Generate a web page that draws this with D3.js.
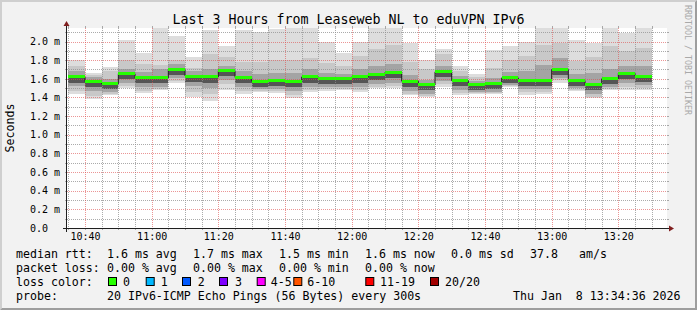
<!DOCTYPE html>
<html>
<head>
<meta charset="utf-8">
<script src="https://cdn.jsdelivr.net/npm/d3@7/dist/d3.min.js"></script>
<style>
body { margin: 0; background: #f2f2f2; }
svg { display: block; }
text { font-family: "DejaVu Sans Mono", monospace; white-space: pre; }
</style>
</head>
<body>
<svg width="697" height="310"></svg>
<script>
var day = "2026-01-08";
var rangeStart = "10:34:36";
var rangeEnd = "13:34:36";
var stepMinutes = 5;

var title = "Last 3 Hours from Leaseweb NL to eduVPN IPv6";
var yTitle = "Seconds";
var watermark = "RRDTOOL / TOBI OETIKER";

// start of each 5 minute bin
var binStart = ["10:35","10:40","10:45","10:50","10:55",
  "11:00","11:05","11:10","11:15","11:20","11:25","11:30","11:35","11:40","11:45","11:50","11:55",
  "12:00","12:05","12:10","12:15","12:20","12:25","12:30","12:35","12:40","12:45","12:50","12:55",
  "13:00","13:05","13:10","13:15","13:20","13:25"];

// median rtt (ms)
var medianMs = [1.62,1.57,1.545,1.655,1.61,1.61,1.70,1.63,1.62,1.685,1.615,1.575,1.585,1.575,1.62,1.60,1.60,1.62,
  1.645,1.67,1.575,1.535,1.675,1.58,1.54,1.55,1.61,1.585,1.585,1.70,1.58,1.535,1.60,1.66,1.63];

// fastest / slowest ping of each bin
var minMs = [1.435,1.38,1.425,1.50,1.45,1.48,1.56,1.41,1.365,1.485,1.435,1.46,1.445,1.39,1.46,1.47,1.48,1.46,
  1.50,1.50,1.425,1.40,1.515,1.425,1.435,1.435,1.515,1.425,1.435,1.56,1.47,1.39,1.48,1.48,1.48];
var maxMs = [1.80,1.665,1.73,2.015,1.88,2.2,2.06,1.835,2.12,1.95,2.12,2.10,2.13,2.2,2.2,2.0,1.88,2.0,
  2.2,2.2,1.985,1.80,1.92,1.735,1.65,1.91,1.95,2.0,2.2,2.2,2.015,1.98,2.2,2.095,2.2];

// 3rd and 18th ping
var p3Ms = [1.47,1.42,1.44,1.52,1.47,1.49,1.58,1.46,1.44,1.54,1.47,1.47,1.47,1.43,1.48,1.49,1.49,1.48,
  1.51,1.52,1.44,1.42,1.54,1.45,1.45,1.45,1.52,1.46,1.46,1.59,1.48,1.41,1.49,1.51,1.50];
var p18Ms = [1.74,1.64,1.68,1.80,1.76,1.75,1.80,1.72,1.87,1.83,1.78,1.78,1.80,1.80,1.82,1.77,1.74,1.85,
  1.92,1.96,1.78,1.70,1.87,1.68,1.62,1.72,1.80,1.84,1.96,1.98,1.79,1.83,1.95,1.90,1.93];

// 6th and 15th ping
var p6Ms = [1.52,1.47,1.46,1.56,1.51,1.51,1.61,1.52,1.50,1.59,1.51,1.49,1.49,1.47,1.51,1.51,1.51,1.51,
  1.54,1.56,1.47,1.44,1.58,1.48,1.46,1.46,1.53,1.49,1.49,1.61,1.50,1.44,1.51,1.55,1.53];
var p15Ms = [1.68,1.62,1.60,1.71,1.67,1.70,1.76,1.68,1.70,1.74,1.68,1.65,1.66,1.66,1.70,1.66,1.65,1.70,
  1.74,1.76,1.64,1.59,1.74,1.63,1.58,1.61,1.67,1.68,1.75,1.82,1.65,1.66,1.71,1.74,1.74];

// 9th and 12th ping
var p9Ms = [1.56,1.51,1.49,1.60,1.55,1.55,1.64,1.57,1.56,1.63,1.555,1.515,1.525,1.515,1.56,1.54,1.54,1.56,
  1.585,1.61,1.515,1.475,1.62,1.52,1.48,1.49,1.55,1.525,1.525,1.64,1.52,1.475,1.54,1.60,1.57];
var p12Ms = [1.635,1.585,1.56,1.67,1.625,1.625,1.715,1.645,1.635,1.70,1.63,1.59,1.60,1.59,1.635,1.615,1.615,1.635,
  1.66,1.685,1.59,1.55,1.69,1.595,1.555,1.565,1.625,1.60,1.60,1.715,1.595,1.55,1.615,1.675,1.645];

var timeTicks = ["10:40","11:00","11:20","11:40","12:00","12:20","12:40","13:00","13:20"];
var yMajor = [0,0.2,0.4,0.6,0.8,1.0,1.2,1.4,1.6,1.8,2.0];
var yMax = 2.145;

var rttStats = ["1.6 ms avg","1.7 ms max","1.5 ms min","1.6 ms now","0.0 ms sd","37.8","am/s"];
var lossStats = ["0.00 % avg","0.00 % max","0.00 % min","0.00 % now"];
var lossLabels = ["0","1","2","3","4-5","6-10","11-19","20/20"];
var probeText = "20 IPv6-ICMP Echo Pings (56 Bytes) every 300s";
var stampText = "Thu Jan  8 13:34:36 2026";

// styling / layout
var lossColors = ["#26ff00","#00b8ff","#0059ff","#7e00ff","#ff00ff","#ff5500","#ff0000","#a10000"];
var smokeColors = ["#dddddd","#c8c8c8","#a4a4a4","#555555"];
var statX = [107,193,279,365,451,530,579];
var lossBoxX = [108,145.7,182,219,256.7,293.3,365.3,430];
var lossTextX = [123,160.7,197.7,235,270.7,307.3,380,445];

var W = 697, H = 310;
var X0 = 67, X1 = 667, Y0 = 228, Y1 = 28;

var parse = d3.timeParse("%Y-%m-%d %H:%M:%S");
function t(s) { return parse(day + " " + (s.length == 5 ? s + ":00" : s)); }

var x = d3.scaleTime().domain([t(rangeStart), t(rangeEnd)]).range([X0, X1]);
var y = d3.scaleLinear().domain([0, yMax]).range([Y0, Y1]);

var svg = d3.select("svg");

// background + 3d frame
svg.append("rect").attr("width", W).attr("height", H).attr("fill", "#f2f2f2");
svg.append("polygon").attr("points", [[0,H],[2,H-2],[2,2],[W-2,2],[W,0],[0,0]].join(" ")).attr("fill", "#cfcfcf");
svg.append("polygon").attr("points", [[2,H-2],[W-2,H-2],[W-2,2],[W,0],[W,H],[0,H]].join(" ")).attr("fill", "#9e9e9e");

svg.append("rect").attr("x", X0).attr("y", Y1).attr("width", X1 - X0).attr("height", Y0 - Y1).attr("fill", "#ffffff");

svg.append("clipPath").attr("id", "plot").append("rect")
  .attr("x", X0).attr("y", Y1).attr("width", X1 - X0).attr("height", Y0 - Y1);

// smoke
var bins = binStart.map(function(s, i) {
  var a = t(s);
  return {
    start: a,
    end: d3.timeMinute.offset(a, stepMinutes),
    med: medianMs[i],
    bands: [[minMs[i], maxMs[i]], [p3Ms[i], p18Ms[i]], [p6Ms[i], p15Ms[i]], [p9Ms[i], p12Ms[i]]]
  };
});

var smoke = svg.append("g").attr("clip-path", "url(#plot)");
smokeColors.forEach(function(col, level) {
  smoke.selectAll(".s" + level)
    .data(bins)
  .enter().append("rect")
    .attr("x", function(d) { return x(d.start); })
    .attr("width", function(d) { return x(d.end) - x(d.start); })
    .attr("y", function(d) { return y(d.bands[level][1]); })
    .attr("height", function(d) { return y(d.bands[level][0]) - y(d.bands[level][1]); })
    .attr("fill", col)
    .attr("shape-rendering", "crispEdges");
});

// grid
var grid = svg.append("g");
var minorY = d3.range(0, yMax, 0.1).filter(function(d, i) { return i % 2 == 1; });
var allMinorY = d3.range(0, yMax, 0.1);
var minorX = d3.timeMinute.every(5).range(x.domain()[0], x.domain()[1])
  .filter(function(d) { return d.getMinutes() % 20 != 0; });
var allMinorX = d3.timeMinute.every(5).range(x.domain()[0], x.domain()[1]);

grid.selectAll(".hmin")
    .data(minorY)
  .enter().append("line")
    .attr("x1", X0).attr("x2", X1)
    .attr("y1", function(d) { return Math.round(y(d)) + 0.5; })
    .attr("y2", function(d) { return Math.round(y(d)) + 0.5; })
    .attr("stroke", "rgba(143,143,143,0.75)")
    .attr("stroke-dasharray", "1,1");
grid.selectAll(".vmin")
    .data(minorX)
  .enter().append("line")
    .attr("x1", function(d) { return Math.round(x(d)) + 0.5; })
    .attr("x2", function(d) { return Math.round(x(d)) + 0.5; })
    .attr("y1", Y1).attr("y2", Y0)
    .attr("stroke", "rgba(143,143,143,0.75)")
    .attr("stroke-dasharray", "1,1");
grid.selectAll(".hmaj")
    .data(yMajor.slice(1))
  .enter().append("line")
    .attr("x1", X0).attr("x2", X1)
    .attr("y1", function(d) { return Math.round(y(d)) + 0.5; })
    .attr("y2", function(d) { return Math.round(y(d)) + 0.5; })
    .attr("stroke", "rgba(222,79,79,0.6)")
    .attr("stroke-dasharray", "1,1");
grid.selectAll(".vmaj")
    .data(timeTicks.map(t))
  .enter().append("line")
    .attr("x1", function(d) { return Math.round(x(d)) + 0.5; })
    .attr("x2", function(d) { return Math.round(x(d)) + 0.5; })
    .attr("y1", Y1).attr("y2", Y0)
    .attr("stroke", "rgba(222,79,79,0.6)")
    .attr("stroke-dasharray", "1,1");

// small ticks outside the canvas
grid.selectAll(".ytk")
    .data(allMinorY)
  .enter().append("path")
    .attr("d", function(d) { var yy = Math.round(y(d)) + 0.5; return "M" + (X0 - 2) + "," + yy + "H" + X0 + "M" + X1 + "," + yy + "H" + (X1 + 2); })
    .attr("stroke", "rgba(143,143,143,0.75)");
grid.selectAll(".xtk")
    .data(allMinorX)
  .enter().append("path")
    .attr("d", function(d) { var xx = Math.round(x(d)) + 0.5; return "M" + xx + "," + Y0 + "V" + (Y0 + 2) + "M" + xx + "," + Y1 + "V" + (Y1 - 2); })
    .attr("stroke", "rgba(143,143,143,0.75)");

// median
var medLine = d3.line()
  .x(function(d) { return x(d[0]); })
  .y(function(d) { return y(d[1]); })
  .curve(d3.curveStepAfter);
var medPts = bins.map(function(d) { return [d.start, d.med]; });
medPts.push([bins[bins.length - 1].end, bins[bins.length - 1].med]);
svg.append("path")
  .attr("d", medLine(medPts))
  .attr("fill", "none")
  .attr("stroke", "#202020")
  .attr("stroke-width", 1);

svg.append("g").selectAll("rect")
    .data(bins)
  .enter().append("rect")
    .attr("x", function(d) { return x(d.start); })
    .attr("width", function(d) { return x(d.end) - x(d.start); })
    .attr("y", function(d) { return y(d.med) - 1.5; })
    .attr("height", 3)
    .attr("fill", lossColors[0])
    .attr("shape-rendering", "crispEdges");

// axes lines + arrows
svg.append("path").attr("d", "M" + (X0 - 4) + "," + (Y0 + 0.5) + "H" + (X1 + 4))
  .attr("stroke", "#1f1f1f");
svg.append("path").attr("d", "M" + (X0 - 0.5) + "," + (Y0 + 4) + "V" + (Y1 - 4))
  .attr("stroke", "#1f1f1f");
svg.append("polygon").attr("points", [[X1 + 2, Y0 - 2.5], [X1 + 2, Y0 + 3.5], [X1 + 7, Y0 + 0.5]].join(" "))
  .attr("fill", "#801f1f");
svg.append("polygon").attr("points", [[X0 - 3.5, Y1 - 2], [X0 + 2.5, Y1 - 2], [X0 - 0.5, Y1 - 7]].join(" "))
  .attr("fill", "#801f1f");

// axis labels
var yAxis = svg.append("g")
  .attr("transform", "translate(" + X0 + ",0)")
  .call(d3.axisLeft(y).tickValues(yMajor).tickSize(0)
    .tickFormat(function(d) { return d == 0 ? "0.0" : d3.format(".1f")(d) + " m"; }));
yAxis.select(".domain").remove();
yAxis.selectAll("text")
  .attr("x", -37)
  .attr("text-anchor", "start")
  .attr("font-family", "DejaVu Sans Mono")
  .attr("font-size", "10px")
  .attr("fill", "#000");

var xAxis = svg.append("g")
  .attr("transform", "translate(0," + Y0 + ")")
  .call(d3.axisBottom(x).tickValues(timeTicks.map(t)).tickSize(0)
    .tickFormat(d3.timeFormat("%H:%M")));
xAxis.select(".domain").remove();
xAxis.selectAll("text")
  .attr("y", 5)
  .attr("font-family", "DejaVu Sans Mono")
  .attr("font-size", "10px")
  .attr("fill", "#000");

// titles
svg.append("text")
  .attr("x", W / 2).attr("y", 24)
  .attr("text-anchor", "middle")
  .attr("font-size", "13.3px")
  .text(title);

svg.append("text")
  .attr("transform", "translate(14," + ((Y0 + Y1) / 2) + ") rotate(-90)")
  .attr("text-anchor", "middle")
  .attr("font-size", "11.6px")
  .text(yTitle);

svg.append("text")
  .attr("transform", "translate(685,5) rotate(90)")
  .attr("font-size", "8.3px")
  .attr("fill", "#a9a9a9")
  .text(watermark);

// legend
var legend = svg.append("g").attr("font-size", "11.6px");
function legendText(xx, yy, s) {
  legend.append("text").attr("x", xx).attr("y", yy).attr("xml:space", "preserve").text(s);
}
legendText(16, 258, "median rtt:");
rttStats.forEach(function(s, i) { legendText(statX[i], 258, s); });
legendText(16, 272, "packet loss:");
lossStats.forEach(function(s, i) { legendText(statX[i], 272, s); });
legendText(16, 286, "loss color:");
lossLabels.forEach(function(s, i) {
  legend.append("rect")
    .attr("x", lossBoxX[i] + 0.5).attr("y", 277.5)
    .attr("width", 8).attr("height", 8)
    .attr("fill", lossColors[i])
    .attr("stroke", "#000");
  legendText(lossTextX[i], 286, s);
});
legendText(16, 300, "probe:");
legendText(107, 300, probeText);
legendText(513, 300, stampText);
</script>
</body>
</html>
